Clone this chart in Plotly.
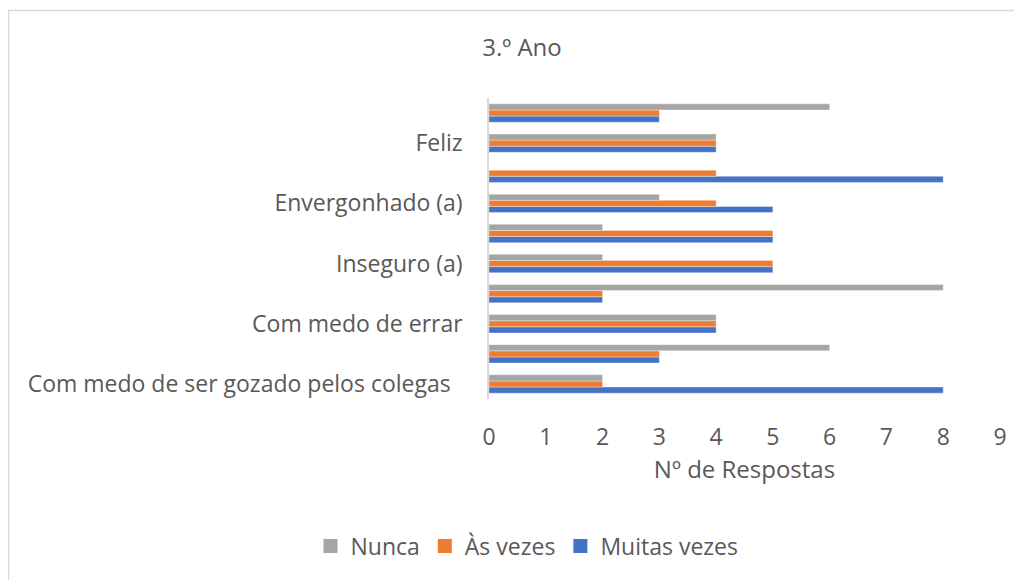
import plotly.graph_objects as go

# Categories bottom-to-top (Excel shows only every other label)
categories = ["Com medo de ser gozado pelos colegas\u00a0\u00a0", "", "Com medo de errar", "",
              "Inseguro (a)", "", "Envergonhado (a)", "", "Feliz", ""]
muitas_vezes = [8, 3, 4, 2, 5, 5, 5, 8, 4, 3]
as_vezes = [2, 3, 4, 2, 5, 5, 4, 4, 4, 3]
nunca = [2, 6, 4, 8, 2, 2, 3, 0, 4, 6]
x_ticks = list(range(0, 10))

series = [("Muitas vezes", muitas_vezes, "#4472C4"),
          ("Às vezes", as_vezes, "#ED7D31"),
          ("Nunca", nunca, "#A5A5A5")]

positions = list(range(len(categories)))
text_color = "#595959"
font_family = "Open Sans, sans-serif"
FS = 23

fig = go.Figure()
for name, vals, color in series:
    fig.add_trace(go.Bar(y=positions, x=vals, name=name, orientation="h", showlegend=False,
                         legendgroup=name,
                         marker=dict(color=color, line=dict(color="rgba(255,255,255,0.6)", width=0.6))))
# legend proxies with larger square swatches
for name, vals, color in series:
    fig.add_trace(go.Scatter(x=[None], y=[None], mode="markers", name=name, legendgroup=name,
                             marker=dict(symbol="square", size=14, color=color)))

O = 8  # page offset of the figure in the browser
W, H = 1014, 572
L, R, T, B = 489 - O, 22, 98 - O, 181
pw, ph = W - L - R, H - T - B

fig.update_layout(
    width=W, height=H,
    margin=dict(l=L, r=R, t=T, b=B),
    barmode="group", bargap=0.39, bargroupgap=0,
    paper_bgcolor="white", plot_bgcolor="white",
    font=dict(family=font_family, color=text_color, size=FS),
    title=dict(text="3.º Ano", x=(522 - O) / W, xanchor="center", y=1 - (48 - O) / H, yanchor="middle",
               font=dict(size=24, color=text_color)),
    showlegend=True,
    legend=dict(orientation="h", traceorder="reversed", x=(527 - O - L) / pw, xanchor="center",
                y=(H - B - (546 - O)) / ph, yanchor="middle", font=dict(size=FS, color=text_color),
                itemwidth=30),
    xaxis=dict(range=[0, 9], tickvals=x_ticks, showgrid=False, zeroline=False, showline=False,
               ticks="", ticklabelstandoff=22, tickfont=dict(size=FS, color=text_color),
               title=dict(text="Nº de Respostas", standoff=8, font=dict(size=24, color=text_color))),
    yaxis=dict(range=[-0.5, len(categories) - 0.5], tickvals=positions, ticktext=categories,
               showgrid=False, zeroline=False, showline=True, linecolor="#D9D9D9", linewidth=1.5,
               ticks="", ticklabelstandoff=20, tickfont=dict(size=FS, color=text_color)),
    shapes=[dict(type="rect", xref="paper", yref="paper",
                 x0=(0.5 - L) / pw, x1=(W + 20 - L) / pw,
                 y0=(H - B - (H + 20)) / ph, y1=(H - B - 2.5) / ph,
                 line=dict(color="#D9D9D9", width=1.5), fillcolor="rgba(0,0,0,0)", layer="below")],
)

fig.write_html("out.html")
